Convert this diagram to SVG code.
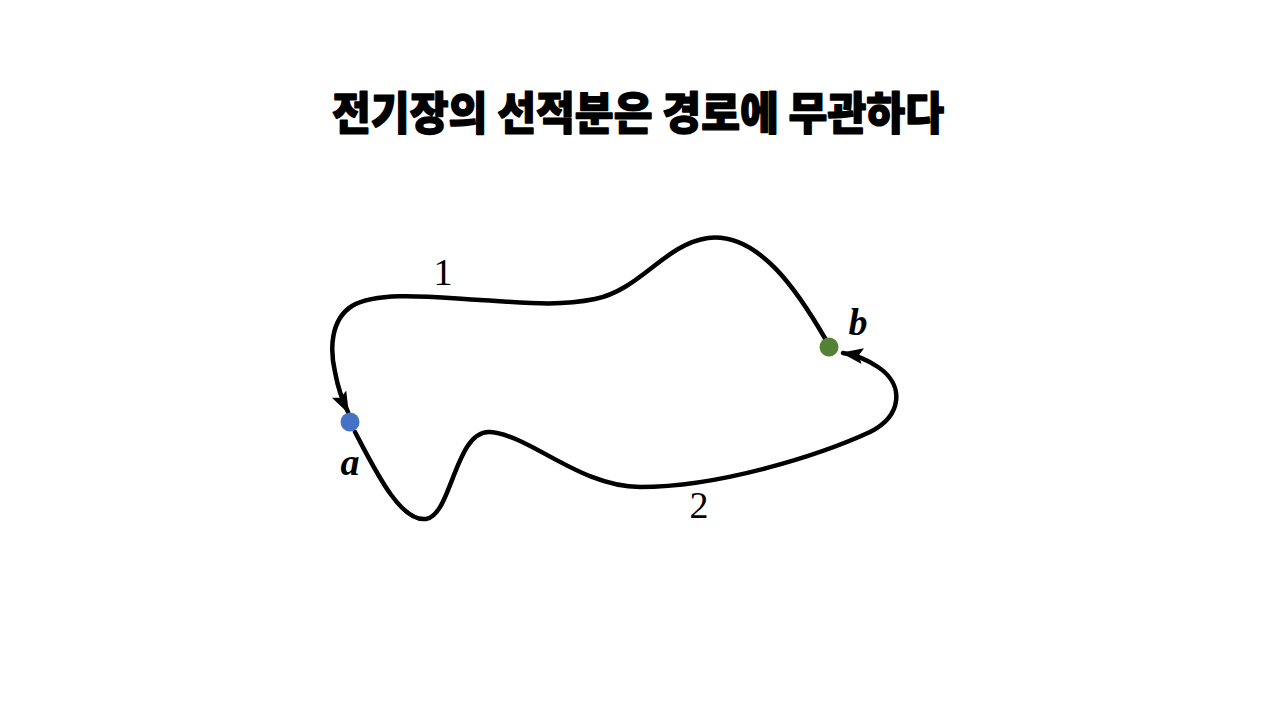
<svg xmlns="http://www.w3.org/2000/svg" width="1280" height="720" viewBox="0 0 1280 720">
<style>
.title{font-family:"Noto Sans CJK KR","Noto Sans",sans-serif;font-weight:900;font-size:45px;fill:#000;stroke:#000;stroke-width:1.4;stroke-linejoin:round}
.num{font-family:"Liberation Serif",serif;font-size:38px;fill:#000}
.pt{font-family:"Liberation Serif",serif;font-size:38px;font-weight:bold;font-style:italic;fill:#000}
.path{fill:none;stroke:#000;stroke-width:4.5;stroke-linecap:round}
</style>
<defs>
<marker id="arr" markerUnits="userSpaceOnUse" markerWidth="24" markerHeight="24" viewBox="0 0 24 24" refX="20" refY="12" orient="auto">
<path d="M0,4 L22,12 L0,20 L4,12 Z" fill="#000"/>
</marker>
</defs>
<rect width="1280" height="720" fill="#fff"/>
<text class="title" x="638" y="130" text-anchor="middle" textLength="612" lengthAdjust="spacingAndGlyphs">전기장의 선적분은 경로에 무관하다</text>
<g id="connectors">
<path id="path1" class="path" marker-end="url(#arr)" d="M826 340 C800 295 760 232 708 238 C665 244 640 290 595 299 C555 307 520 302 480 300 C440 298 380 290 352 306 C330 320 330 350 335 372 C338 388 342 400 348 412"/>
<path id="path2" class="path" marker-end="url(#arr)" d="M355 432 C375 470 400 522 426 519 C452 515 455 430 490 432 C530 435 580 487 640 487 C720 487 820 455 870 432 C902 416 905 385 878 367 C866 359 856 355 843 353"/>
</g>
<g id="node-a">
<circle cx="350" cy="422" r="9.5" fill="#4472C4"/>
<text class="pt" x="350" y="475" text-anchor="middle">a</text>
</g>
<g id="node-b">
<circle cx="829" cy="347" r="9.5" fill="#548235"/>
<text class="pt" x="858" y="335" text-anchor="middle">b</text>
</g>
<g id="label-1"><text class="num" x="443" y="285" text-anchor="middle">1</text></g>
<g id="label-2"><text class="num" x="699" y="518" text-anchor="middle">2</text></g>
</svg>
